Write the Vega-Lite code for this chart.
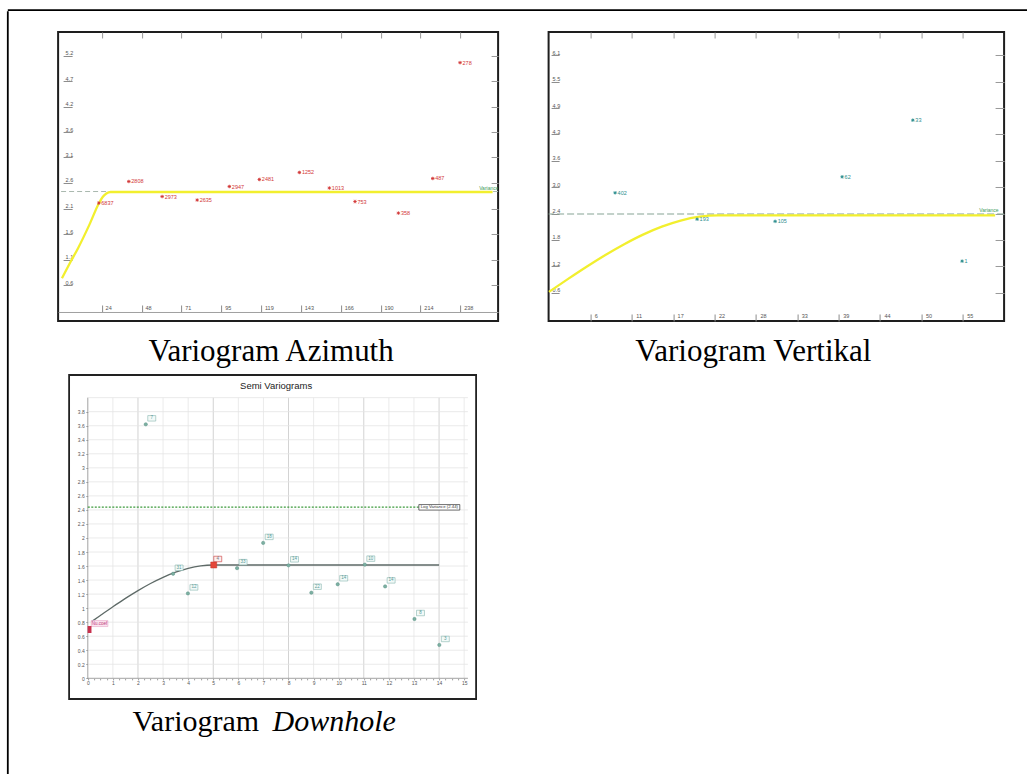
{
  "$schema": "https://vega.github.io/schema/vega-lite/v6.json",
  "padding": {"left": 7.3, "top": 9.7, "right": 0, "bottom": 0},
  "background": "white",
  "config": {
    "view": {"stroke": null},
    "axis": {"labelFont": "Liberation Sans", "titleFont": "Liberation Sans"},
    "text": {"font": "Liberation Sans"}
  },
  "bounds": "flush",
  "spacing": 0,
  "vconcat": [
    {
      "width": 1020,
      "height": 1,
      "data": {"values": [{"fx": 0.5}]},
      "mark": {"type": "point", "opacity": 0, "size": 0},
      "encoding": {
        "x": {"field": "fx", "type": "quantitative", "scale": {"domain": [0, 1]},
          "axis": {"orient": "top", "domain": true, "domainColor": "#000", "domainWidth": 1.8, "ticks": false, "labels": false, "grid": false, "title": null}}
      }
    },
    {
      "bounds": "flush",
      "spacing": 49.8,
      "hconcat": [
        {
          "width": 1,
          "height": 763,
          "data": {"values": [{"fy": 0.5}]},
          "mark": {"type": "point", "opacity": 0, "size": 0},
          "encoding": {
            "y": {"field": "fy", "type": "quantitative", "scale": {"domain": [0, 1]},
              "axis": {"orient": "left", "domain": true, "domainColor": "#000", "domainWidth": 1.8, "ticks": false, "labels": false, "grid": false, "title": null}}
          }
        },
        {
          "bounds": "flush",
          "spacing": 20.3,
          "vconcat": [
            {"width": 1, "height": 1, "data": {"values": [{}]}, "mark": {"type": "point", "opacity": 0, "size": 0}, "encoding": {}},
            {
              "bounds": "full",
              "spacing": 0,
              "vconcat": [
                {
                  "bounds": "flush",
                  "spacing": 50.5,
                  "hconcat": [
                    {
                      "width": 440,
                      "height": 289,
                      "view": {"stroke": "#1e1e1e", "strokeWidth": 2},
                      "resolve": {"axis": {"x": "independent", "y": "independent"}},
                      "layer": [
                        {
                          "data": {"values": [{"variance": 2.47}]},
                          "mark": {"type": "rule", "color": "#a9b8ae", "strokeDash": [5, 3], "strokeWidth": 1},
                          "encoding": {"y": {"field": "variance", "type": "quantitative", "scale": {"domain": [-0.112, 5.651], "nice": false, "zero": false}, "axis": null}}
                        },
                        {
                          "data": {"values": [
                            {"lag": 0, "gamma": 0.74}, {"lag": 5, "gamma": 1.06}, {"lag": 9.6, "gamma": 1.34},
                            {"lag": 16.4, "gamma": 1.81}, {"lag": 22, "gamma": 2.23}, {"lag": 24.3, "gamma": 2.36},
                            {"lag": 26.5, "gamma": 2.43}, {"lag": 29, "gamma": 2.46}, {"lag": 257, "gamma": 2.46}
                          ]},
                          "mark": {"type": "line", "color": "#f2ef2e", "strokeWidth": 2.3, "interpolate": "monotone"},
                          "encoding": {
                            "x": {"field": "lag", "type": "quantitative", "scale": {"domain": [-2.3, 260.3], "nice": false, "zero": false},
                              "axis": {"orient": "bottom", "offset": -9, "values": [23.78, 47.56, 71.34, 95.12, 118.9, 142.68, 166.46, 190.24, 214.02, 237.8], "format": ".0f",
                                "domain": true, "domainColor": "#a0a0a0", "domainWidth": 1, "ticks": true, "tickSize": -7, "tickColor": "#8c8c8c", "tickWidth": 1,
                                "labelAlign": "left", "labelBaseline": "middle", "labelPadding": 2.3, "labelOffset": 3.3, "labelFontSize": 5.5, "labelColor": "#555",
                                "labelOverlap": false, "labelFlush": false, "labelBound": false, "grid": false, "title": null}},
                            "y": {"field": "gamma", "type": "quantitative", "scale": {"domain": [-0.112, 5.651], "nice": false, "zero": false},
                              "axis": {"orient": "left", "offset": -5, "values": [0.6, 1.11, 1.62, 2.13, 2.64, 3.149, 3.649, 4.16, 4.67, 5.18], "format": ".1f",
                                "domain": false, "ticks": true, "tickSize": -9, "tickColor": "#8c8c8c", "tickWidth": 1,
                                "labelAlign": "left", "labelBaseline": "bottom", "labelPadding": 7, "labelFontSize": 5.5, "labelColor": "#555",
                                "labelOverlap": false, "labelFlush": false, "labelBound": false, "grid": false, "title": null}}
                          }
                        },
                        {
                          "data": {"name": "az"},
                          "mark": {"type": "point", "shape": "M-1,0L1,0M0,-1L0,1M-0.7,-0.7L0.7,0.7M-0.7,0.7L0.7,-0.7", "filled": false, "color": "#d23838", "strokeWidth": 0.9, "size": 12, "opacity": 1},
                          "encoding": {
                            "x": {"field": "lag", "type": "quantitative", "scale": {"domain": [-2.3, 260.3], "nice": false, "zero": false},
                              "axis": {"orient": "top", "values": [23.78, 47.56, 71.34, 95.12, 118.9, 142.68, 166.46, 190.24, 214.02, 237.8], "domain": false, "ticks": true, "tickSize": -6, "tickColor": "#999", "labels": false, "grid": false, "title": null}},
                            "y": {"field": "gamma", "type": "quantitative", "scale": {"domain": [-0.112, 5.651], "nice": false, "zero": false},
                              "axis": {"orient": "right", "values": [0.6, 1.11, 1.62, 2.13, 2.64, 3.149, 3.649, 4.16, 4.67, 5.18], "domain": false, "ticks": true, "tickSize": -7, "tickColor": "#999", "labels": false, "grid": false, "title": null}}
                          }
                        },
                        {
                          "data": {"name": "az"},
                          "mark": {"type": "text", "align": "left", "baseline": "middle", "dx": 2.5, "fontSize": 5.5, "color": "#d23838"},
                          "encoding": {
                            "x": {"field": "lag", "type": "quantitative", "scale": {"domain": [-2.3, 260.3], "nice": false, "zero": false}, "axis": null},
                            "y": {"field": "gamma", "type": "quantitative", "scale": {"domain": [-0.112, 5.651], "nice": false, "zero": false}, "axis": null},
                            "text": {"field": "pairs"}
                          }
                        },
                        {
                          "data": {"values": [{"lag": 249, "gamma": 2.47, "t": "Variance"}]},
                          "mark": {"type": "text", "align": "left", "baseline": "bottom", "dy": -1, "fontSize": 5, "color": "#3c9a58", "clip": true},
                          "encoding": {
                            "x": {"field": "lag", "type": "quantitative", "scale": {"domain": [-2.3, 260.3], "nice": false, "zero": false}, "axis": null},
                            "y": {"field": "gamma", "type": "quantitative", "scale": {"domain": [-0.112, 5.651], "nice": false, "zero": false}, "axis": null},
                            "text": {"field": "t"}
                          }
                        }
                      ]
                    },
                    {
                      "width": 455.5,
                      "height": 289,
                      "view": {"stroke": "#1e1e1e", "strokeWidth": 2},
                      "resolve": {"axis": {"x": "independent", "y": "independent"}},
                      "layer": [
                        {
                          "data": {"values": [{"variance": 2.42}]},
                          "mark": {"type": "rule", "color": "#86a394", "strokeDash": [7, 3], "strokeWidth": 1},
                          "encoding": {"y": {"field": "variance", "type": "quantitative", "scale": {"domain": [-0.054, 6.629], "nice": false, "zero": false}, "axis": null}}
                        },
                        {
                          "data": {"values": [
                            {"lag": 0, "gamma": 0.62}, {"lag": 2.5, "gamma": 0.914}, {"lag": 5, "gamma": 1.2},
                            {"lag": 7.5, "gamma": 1.472}, {"lag": 10, "gamma": 1.722}, {"lag": 12.5, "gamma": 1.944},
                            {"lag": 15, "gamma": 2.128}, {"lag": 17.5, "gamma": 2.269}, {"lag": 20, "gamma": 2.359},
                            {"lag": 22.5, "gamma": 2.39}, {"lag": 59.3, "gamma": 2.39}
                          ]},
                          "mark": {"type": "line", "color": "#f2ef2e", "strokeWidth": 2.3, "interpolate": "monotone"},
                          "encoding": {
                            "x": {"field": "lag", "type": "quantitative", "scale": {"domain": [-0.05, 60.49], "nice": false, "zero": false},
                              "axis": {"orient": "bottom", "offset": 0, "values": [5.5, 11, 16.5, 22, 27.5, 33, 38.5, 44, 49.5, 55], "format": ".0f",
                                "domain": false, "ticks": true, "tickSize": -7, "tickColor": "#8c8c8c", "tickWidth": 1,
                                "labelAlign": "left", "labelBaseline": "middle", "labelPadding": 2, "labelOffset": 4, "labelFontSize": 5.5, "labelColor": "#555",
                                "labelOverlap": false, "labelFlush": false, "labelBound": false, "grid": false, "title": null}},
                            "y": {"field": "gamma", "type": "quantitative", "scale": {"domain": [-0.054, 6.629], "nice": false, "zero": false},
                              "axis": {"orient": "left", "offset": -2.5, "values": [0.6, 1.21, 1.82, 2.43, 3.04, 3.649, 4.26, 4.87, 5.48, 6.09], "format": ".1f",
                                "domain": false, "ticks": true, "tickSize": -8, "tickColor": "#8c8c8c", "tickWidth": 1,
                                "labelAlign": "left", "labelBaseline": "bottom", "labelPadding": 7, "labelFontSize": 5.5, "labelColor": "#555",
                                "labelOverlap": false, "labelFlush": false, "labelBound": false, "grid": false, "title": null}}
                          }
                        },
                        {
                          "data": {"name": "vert"},
                          "mark": {"type": "point", "shape": "M-1,0L1,0M0,-1L0,1M-0.7,-0.7L0.7,0.7M-0.7,0.7L0.7,-0.7", "filled": false, "color": "#2e8e8e", "strokeWidth": 0.9, "size": 12, "opacity": 1},
                          "encoding": {
                            "x": {"field": "lag", "type": "quantitative", "scale": {"domain": [-0.05, 60.49], "nice": false, "zero": false},
                              "axis": {"orient": "top", "values": [5.5, 11, 16.5, 22, 27.5, 33, 38.5, 44, 49.5, 55], "domain": false, "ticks": true, "tickSize": -6, "tickColor": "#999", "labels": false, "grid": false, "title": null}},
                            "y": {"field": "gamma", "type": "quantitative", "scale": {"domain": [-0.054, 6.629], "nice": false, "zero": false},
                              "axis": {"orient": "right", "values": [0.6, 1.21, 1.82, 2.43, 3.04, 3.649, 4.26, 4.87, 5.48, 6.09], "domain": false, "ticks": true, "tickSize": -9, "tickColor": "#999", "labels": false, "grid": false, "title": null}}
                          }
                        },
                        {
                          "data": {"name": "vert"},
                          "mark": {"type": "text", "align": "left", "baseline": "middle", "dx": 2.5, "fontSize": 5.5, "color": "#2e8e8e"},
                          "encoding": {
                            "x": {"field": "lag", "type": "quantitative", "scale": {"domain": [-0.05, 60.49], "nice": false, "zero": false}, "axis": null},
                            "y": {"field": "gamma", "type": "quantitative", "scale": {"domain": [-0.054, 6.629], "nice": false, "zero": false}, "axis": null},
                            "text": {"field": "pairs"}
                          }
                        },
                        {
                          "data": {"values": [{"lag": 57.2, "gamma": 2.42, "t": "Variance"}]},
                          "mark": {"type": "text", "align": "left", "baseline": "bottom", "dy": -1, "fontSize": 5, "color": "#3c9a58", "clip": true},
                          "encoding": {
                            "x": {"field": "lag", "type": "quantitative", "scale": {"domain": [-0.05, 60.49], "nice": false, "zero": false}, "axis": null},
                            "y": {"field": "gamma", "type": "quantitative", "scale": {"domain": [-0.054, 6.629], "nice": false, "zero": false}, "axis": null},
                            "text": {"field": "t"}
                          }
                        }
                      ]
                    }
                  ]
                },
                {
                  "bounds": "flush",
                  "spacing": 50.5,
                  "hconcat": [
                    {"width": 440, "height": 51, "data": {"values": [{"c": "Variogram Azimuth"}]},
                      "mark": {"type": "text", "font": "Liberation Serif", "fontSize": 31, "color": "#000", "baseline": "alphabetic", "dy": 12.5, "dx": -7},
                      "encoding": {"text": {"field": "c"}}},
                    {"width": 455.5, "height": 51, "data": {"values": [{"c": "Variogram Vertikal"}]},
                      "mark": {"type": "text", "font": "Liberation Serif", "fontSize": 31, "color": "#000", "baseline": "alphabetic", "dy": 12.5, "dx": -23},
                      "encoding": {"text": {"field": "c"}}}
                  ]
                },
                {
                  "bounds": "flush",
                  "spacing": 10,
                  "hconcat": [
                    {"width": 1, "height": 1, "data": {"values": [{}]}, "mark": {"type": "point", "opacity": 0, "size": 0}, "encoding": {}},
                    {
                      "width": 407,
                      "height": 324,
                      "view": {"stroke": "#222", "strokeWidth": 1.8},
                      "title": {"text": "Semi Variograms", "orient": "top", "anchor": "middle", "frame": "group", "offset": -16, "fontSize": 9.5, "fontWeight": "normal", "font": "Liberation Sans", "color": "#222", "dx": 3.5},
                      "resolve": {"axis": {"x": "independent", "y": "independent"}},
                      "layer": [
                        {
                          "data": {"values": [{"gx": 0}, {"gx": 1}, {"gx": 2}, {"gx": 3}, {"gx": 4}, {"gx": 5}, {"gx": 6}, {"gx": 7}, {"gx": 8}, {"gx": 9}, {"gx": 10}, {"gx": 11}, {"gx": 12}, {"gx": 13}, {"gx": 14}, {"gx": 15}]},
                          "mark": {"type": "rule", "strokeWidth": 0.8},
                          "encoding": {
                            "x": {"field": "gx", "type": "quantitative", "scale": {"domain": [-0.745, 15.476], "nice": false, "zero": false},
                              "axis": {"orient": "bottom", "offset": -20.6,
                                "values": [0, 0.25, 0.5, 0.75, 1, 1.25, 1.5, 1.75, 2, 2.25, 2.5, 2.75, 3, 3.25, 3.5, 3.75, 4, 4.25, 4.5, 4.75, 5, 5.25, 5.5, 5.75, 6, 6.25, 6.5, 6.75, 7, 7.25, 7.5, 7.75, 8, 8.25, 8.5, 8.75, 9, 9.25, 9.5, 9.75, 10, 10.25, 10.5, 10.75, 11, 11.25, 11.5, 11.75, 12, 12.25, 12.5, 12.75, 13, 13.25, 13.5, 13.75, 14, 14.25, 14.5, 14.75, 15],
                                "labelExpr": "datum.value % 1 === 0 ? format(datum.value, 'd') : ''",
                                "domain": false, "ticks": true, "tickSize": 1.5, "tickColor": "#888", "tickWidth": 0.8,
                                "labelPadding": 0.5, "labelFontSize": 5, "labelColor": "#555", "labelOverlap": false, "labelFlush": false, "labelBound": false, "grid": false, "title": null}},
                            "y": {"datum": 0, "type": "quantitative", "scale": {"domain": [-0.295, 4.323], "nice": false, "zero": false}, "axis": null},
                            "y2": {"datum": 4},
                            "color": {"condition": [{"test": "datum.gx === 0", "value": "#8a8a8a"}, {"test": "datum.gx % 3 === 2", "value": "#c6c6c6"}], "value": "#e4e4e4"}
                          }
                        },
                        {
                          "data": {"values": [{"gy": 0}, {"gy": 0.2}, {"gy": 0.4}, {"gy": 0.6}, {"gy": 0.8}, {"gy": 1}, {"gy": 1.2}, {"gy": 1.4}, {"gy": 1.6}, {"gy": 1.8}, {"gy": 2}, {"gy": 2.2}, {"gy": 2.4}, {"gy": 2.6}, {"gy": 2.8}, {"gy": 3}, {"gy": 3.2}, {"gy": 3.4}, {"gy": 3.6}, {"gy": 3.8}, {"gy": 4}]},
                          "mark": {"type": "rule", "strokeWidth": 0.8},
                          "encoding": {
                            "y": {"field": "gy", "type": "quantitative", "scale": {"domain": [-0.295, 4.323], "nice": false, "zero": false},
                              "axis": {"orient": "left", "offset": -18.7,
                                "values": [0, 0.2, 0.4, 0.6, 0.8, 1, 1.2, 1.4, 1.6, 1.8, 2, 2.2, 2.4, 2.6, 2.8, 3, 3.2, 3.4, 3.6, 3.8], "format": "~g",
                                "domain": false, "ticks": true, "tickSize": 2, "tickColor": "#888", "tickWidth": 0.8,
                                "labelPadding": 1.5, "labelFontSize": 5, "labelColor": "#555", "labelOverlap": false, "labelFlush": false, "labelBound": false, "grid": false, "title": null}},
                            "x": {"datum": 0, "type": "quantitative", "scale": {"domain": [-0.745, 15.476], "nice": false, "zero": false}, "axis": null},
                            "x2": {"datum": 15.15},
                            "color": {"condition": {"test": "datum.gy === 0", "value": "#8a8a8a"}, "value": "#e4e4e4"}
                          }
                        },
                        {
                          "data": {"values": [{"h": 0, "h2": 13.19, "v": 2.44}]},
                          "mark": {"type": "rule", "color": "#3c9a3c", "strokeDash": [2, 1.5], "strokeWidth": 1.3},
                          "encoding": {
                            "x": {"field": "h", "type": "quantitative", "scale": {"domain": [-0.745, 15.476], "nice": false, "zero": false}, "axis": null},
                            "x2": {"field": "h2"},
                            "y": {"field": "v", "type": "quantitative", "scale": {"domain": [-0.295, 4.323], "nice": false, "zero": false}, "axis": null}
                          }
                        },
                        {
                          "data": {"name": "logvar"},
                          "mark": {"type": "point", "shape": "M-7.45,-1L7.45,-1L7.45,1L-7.45,1Z", "filled": true, "fill": "#fff", "stroke": "#333", "strokeWidth": 0.7, "size": 30.25, "opacity": 1},
                          "encoding": {
                            "x": {"field": "h", "type": "quantitative", "scale": {"domain": [-0.745, 15.476], "nice": false, "zero": false}, "axis": null},
                            "y": {"field": "v", "type": "quantitative", "scale": {"domain": [-0.295, 4.323], "nice": false, "zero": false}, "axis": null}
                          }
                        },
                        {
                          "data": {"name": "logvar"},
                          "mark": {"type": "text", "fontSize": 4.3, "color": "#333", "align": "center", "baseline": "middle"},
                          "encoding": {
                            "x": {"field": "h", "type": "quantitative", "scale": {"domain": [-0.745, 15.476], "nice": false, "zero": false}, "axis": null},
                            "y": {"field": "v", "type": "quantitative", "scale": {"domain": [-0.295, 4.323], "nice": false, "zero": false}, "axis": null},
                            "text": {"field": "t"}
                          }
                        },
                        {
                          "data": {"values": [
                            {"h": 0.15, "v": 0.808}, {"h": 0.5, "v": 0.896}, {"h": 1, "v": 1.02}, {"h": 1.5, "v": 1.139},
                            {"h": 2, "v": 1.25}, {"h": 2.5, "v": 1.351}, {"h": 3, "v": 1.439}, {"h": 3.5, "v": 1.512},
                            {"h": 4, "v": 1.568}, {"h": 4.5, "v": 1.603}, {"h": 5, "v": 1.615}, {"h": 14, "v": 1.615}
                          ]},
                          "mark": {"type": "line", "color": "#5e6a67", "strokeWidth": 1.3, "interpolate": "monotone"},
                          "encoding": {
                            "x": {"field": "h", "type": "quantitative", "scale": {"domain": [-0.745, 15.476], "nice": false, "zero": false}, "axis": null},
                            "y": {"field": "v", "type": "quantitative", "scale": {"domain": [-0.295, 4.323], "nice": false, "zero": false}, "axis": null}
                          }
                        },
                        {
                          "data": {"name": "dh"},
                          "mark": {"type": "point", "shape": "circle", "filled": true, "fill": "#7db0a2", "stroke": "#5a9285", "strokeWidth": 0.5, "size": 11, "opacity": 1},
                          "encoding": {
                            "x": {"field": "h", "type": "quantitative", "scale": {"domain": [-0.745, 15.476], "nice": false, "zero": false}, "axis": null},
                            "y": {"field": "v", "type": "quantitative", "scale": {"domain": [-0.295, 4.323], "nice": false, "zero": false}, "axis": null}
                          }
                        },
                        {
                          "data": {"name": "dh"},
                          "mark": {"type": "point", "shape": "M-1.45,-1L1.45,-1L1.45,1L-1.45,1Z", "filled": true, "fill": "#f3faf8", "stroke": "#86b6ae", "strokeWidth": 0.6, "size": 30.25, "opacity": 1, "xOffset": 6, "yOffset": -6},
                          "encoding": {
                            "x": {"field": "h", "type": "quantitative", "scale": {"domain": [-0.745, 15.476], "nice": false, "zero": false}, "axis": null},
                            "y": {"field": "v", "type": "quantitative", "scale": {"domain": [-0.295, 4.323], "nice": false, "zero": false}, "axis": null}
                          }
                        },
                        {
                          "data": {"name": "dh"},
                          "mark": {"type": "text", "fontSize": 4.5, "color": "#5a9a98", "align": "center", "baseline": "middle", "dx": 6, "dy": -6},
                          "encoding": {
                            "x": {"field": "h", "type": "quantitative", "scale": {"domain": [-0.745, 15.476], "nice": false, "zero": false}, "axis": null},
                            "y": {"field": "v", "type": "quantitative", "scale": {"domain": [-0.295, 4.323], "nice": false, "zero": false}, "axis": null},
                            "text": {"field": "n"}
                          }
                        },
                        {
                          "data": {"name": "sel"},
                          "mark": {"type": "point", "shape": "M-1.45,-1L1.45,-1L1.45,1L-1.45,1Z", "filled": true, "fill": "#fbeeee", "stroke": "#d05050", "strokeWidth": 0.7, "size": 30.25, "opacity": 1, "xOffset": 4, "yOffset": -6},
                          "encoding": {
                            "x": {"field": "h", "type": "quantitative", "scale": {"domain": [-0.745, 15.476], "nice": false, "zero": false}, "axis": null},
                            "y": {"field": "v", "type": "quantitative", "scale": {"domain": [-0.295, 4.323], "nice": false, "zero": false}, "axis": null}
                          }
                        },
                        {
                          "data": {"name": "sel"},
                          "mark": {"type": "text", "fontSize": 4.5, "color": "#777", "align": "center", "baseline": "middle", "dx": 4, "dy": -6},
                          "encoding": {
                            "x": {"field": "h", "type": "quantitative", "scale": {"domain": [-0.745, 15.476], "nice": false, "zero": false}, "axis": null},
                            "y": {"field": "v", "type": "quantitative", "scale": {"domain": [-0.295, 4.323], "nice": false, "zero": false}, "axis": null},
                            "text": {"field": "n"}
                          }
                        },
                        {
                          "data": {"name": "sel"},
                          "mark": {"type": "point", "shape": "square", "filled": true, "fill": "#e4473a", "stroke": "#c03528", "strokeWidth": 0.5, "size": 36, "opacity": 1},
                          "encoding": {
                            "x": {"field": "h", "type": "quantitative", "scale": {"domain": [-0.745, 15.476], "nice": false, "zero": false}, "axis": null},
                            "y": {"field": "v", "type": "quantitative", "scale": {"domain": [-0.295, 4.323], "nice": false, "zero": false}, "axis": null}
                          }
                        },
                        {
                          "data": {"name": "nug"},
                          "mark": {"type": "point", "shape": "M-2.78,-1L2.78,-1L2.78,1L-2.78,1Z", "filled": true, "fill": "#fbe3ef", "stroke": "#e8a8c8", "strokeWidth": 0.6, "size": 36, "opacity": 1, "xOffset": 10, "yOffset": -6},
                          "encoding": {
                            "x": {"field": "h", "type": "quantitative", "scale": {"domain": [-0.745, 15.476], "nice": false, "zero": false}, "axis": null},
                            "y": {"field": "v", "type": "quantitative", "scale": {"domain": [-0.295, 4.323], "nice": false, "zero": false}, "axis": null}
                          }
                        },
                        {
                          "data": {"name": "nug"},
                          "mark": {"type": "text", "fontSize": 4.5, "color": "#c0407a", "align": "center", "baseline": "middle", "dx": 10, "dy": -6},
                          "encoding": {
                            "x": {"field": "h", "type": "quantitative", "scale": {"domain": [-0.745, 15.476], "nice": false, "zero": false}, "axis": null},
                            "y": {"field": "v", "type": "quantitative", "scale": {"domain": [-0.295, 4.323], "nice": false, "zero": false}, "axis": null},
                            "text": {"field": "n"}
                          }
                        },
                        {
                          "data": {"name": "nug"},
                          "mark": {"type": "point", "shape": "M-0.55,-1L0.55,-1L0.55,1L-0.55,1Z", "filled": true, "fill": "#c8304e", "size": 49, "opacity": 1},
                          "encoding": {
                            "x": {"field": "h", "type": "quantitative", "scale": {"domain": [-0.745, 15.476], "nice": false, "zero": false}, "axis": null},
                            "y": {"field": "v", "type": "quantitative", "scale": {"domain": [-0.295, 4.323], "nice": false, "zero": false}, "axis": null}
                          }
                        }
                      ]
                    }
                  ]
                },
                {
                  "width": 412,
                  "height": 50,
                  "layer": [
                    {"data": {"values": [{"c": "Variogram"}]},
                      "mark": {"type": "text", "font": "Liberation Serif", "fontSize": 30, "color": "#000", "baseline": "alphabetic", "align": "right", "dx": -5, "dy": 6.2},
                      "encoding": {"text": {"field": "c"}}},
                    {"data": {"values": [{"c": "Downhole"}]},
                      "mark": {"type": "text", "font": "Liberation Serif", "fontSize": 30, "fontStyle": "italic", "color": "#000", "baseline": "alphabetic", "align": "left", "dx": 8.5, "dy": 6.2},
                      "encoding": {"text": {"field": "c"}}}
                  ]
                }
              ]
            }
          ]
        }
      ]
    }
  ],
  "datasets": {
    "az": [
      {"lag": 22.0, "gamma": 2.24, "pairs": "6837"},
      {"lag": 39.9, "gamma": 2.67, "pairs": "2808"},
      {"lag": 59.8, "gamma": 2.37, "pairs": "2973"},
      {"lag": 80.7, "gamma": 2.30, "pairs": "2635"},
      {"lag": 99.9, "gamma": 2.57, "pairs": "2947"},
      {"lag": 117.8, "gamma": 2.71, "pairs": "2481"},
      {"lag": 141.7, "gamma": 2.85, "pairs": "1252"},
      {"lag": 159.6, "gamma": 2.54, "pairs": "1013"},
      {"lag": 174.9, "gamma": 2.27, "pairs": "753"},
      {"lag": 200.8, "gamma": 2.04, "pairs": "358"},
      {"lag": 221.3, "gamma": 2.73, "pairs": "487"},
      {"lag": 237.6, "gamma": 5.04, "pairs": "278"}
    ],
    "vert": [
      {"lag": 8.79, "gamma": 2.91, "pairs": "402"},
      {"lag": 19.69, "gamma": 2.30, "pairs": "193"},
      {"lag": 30.06, "gamma": 2.25, "pairs": "105"},
      {"lag": 38.96, "gamma": 3.28, "pairs": "62"},
      {"lag": 48.36, "gamma": 4.59, "pairs": "33"},
      {"lag": 54.91, "gamma": 1.33, "pairs": "1"}
    ],
    "dh": [
      {"h": 2.31, "v": 3.62, "n": "7"},
      {"h": 3.40, "v": 1.49, "n": "31"},
      {"h": 3.99, "v": 1.21, "n": "12"},
      {"h": 5.95, "v": 1.57, "n": "33"},
      {"h": 6.99, "v": 1.93, "n": "18"},
      {"h": 8.00, "v": 1.61, "n": "14"},
      {"h": 8.91, "v": 1.22, "n": "22"},
      {"h": 9.96, "v": 1.34, "n": "14"},
      {"h": 11.04, "v": 1.62, "n": "10"},
      {"h": 11.85, "v": 1.31, "n": "14"},
      {"h": 13.02, "v": 0.845, "n": "8"},
      {"h": 14.01, "v": 0.475, "n": "3"}
    ],
    "sel": [{"h": 5.02, "v": 1.615, "n": "4"}],
    "nug": [{"h": 0.07, "v": 0.695, "n": "Nu.coef"}],
    "logvar": [{"h": 14.01, "v": 2.437, "t": "Log Variance (2.44)"}]
  }
}
